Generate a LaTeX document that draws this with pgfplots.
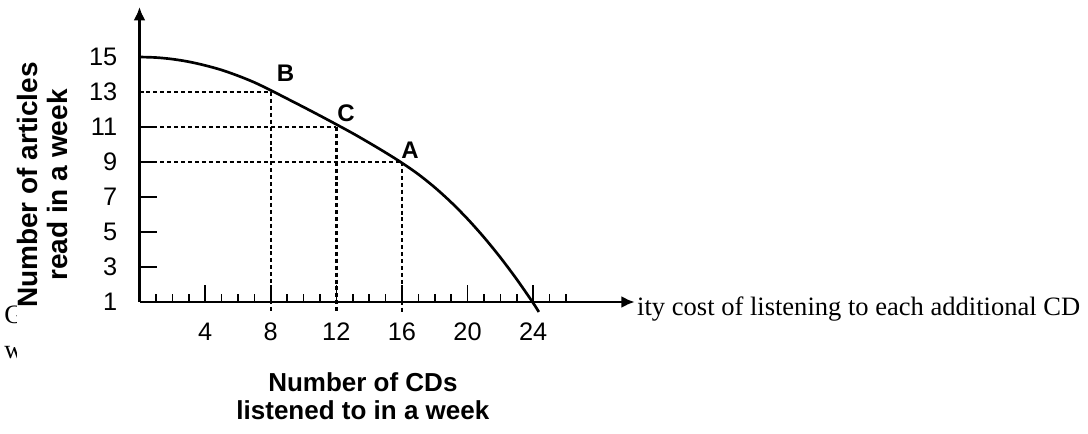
\documentclass[border=0pt]{standalone}
\usepackage{pgfplots}
\pgfplotsset{compat=1.18}
\usepackage{fontspec}
\setmainfont{Liberation Sans}
\newfontfamily\seriffont{Liberation Serif}
\usetikzlibrary{arrows.meta}
\begin{document}
\begin{tikzpicture}
\useasboundingbox (-104.625pt,-98.25pt) rectangle (711.375pt,226.5pt);
% background question text (partly hidden by the chart image)
\node[anchor=base west, inner sep=0pt, font=\seriffont\fontsize{19.9}{22}\selectfont] at (-101.6pt,-15.75pt) {G};
\node[anchor=base west, inner sep=0pt, font=\seriffont\fontsize{19.9}{22}\selectfont] at (-101.6pt,-42pt) {w};
\node[anchor=base west, inner sep=0pt, font=\seriffont\fontsize{19.9}{22}\selectfont] at (373.1pt,-9.75pt) {ity cost of listening to each additional CD};
\fill[white] (-91.9pt,-98.25pt) rectangle (370.9pt,226.5pt);
\begin{axis}[
  at={(0,0)}, anchor=south west,
  x=12.3pt, y=13.125pt,
  xmin=0, xmax=30.2, ymin=1, ymax=17.86,
  axis lines=left,
  axis line style={line width=2pt, -{Latex[length=10pt,width=9pt]}},
  clip=false,
  xtick={4,8,...,24},
  minor xtick={1,...,26},
  ytick={3,5,...,11},
  extra y ticks={1,13,15},
  extra y tick style={major tick length=0pt},
  tick align=inside,
  major tick length=13pt, minor tick length=6pt,
  tick style={black, line width=1.2pt},
  /pgf/number format/assume math mode=true,
  tick label style={font=\fontsize{19}{22}\selectfont},
  xticklabel style={anchor=base, inner sep=0pt, yshift=-29pt},
  yticklabel style={anchor=east, inner sep=0pt, xshift=-16.5pt},
  xlabel={Number of CDs\\listened to in a week},
  xlabel style={at={(rel axis cs:0.451,0)}, anchor=center, yshift=-70.9pt, align=center, font=\bfseries\fontsize{19.5}{21}\selectfont},
]
% dotted guide lines
\addplot[black, line width=1.8pt, dash pattern=on 3pt off 2.2pt] coordinates {(0,13) (8,13)};
\addplot[black, line width=1.8pt, dash pattern=on 3pt off 2.2pt] coordinates {(0,11) (12,11)};
\addplot[black, line width=1.8pt, dash pattern=on 3pt off 2.2pt] coordinates {(0,9) (16,9)};
\addplot[black, line width=1.8pt, dash pattern=on 3pt off 2.2pt] coordinates {(8,13) (8,0.4)};
\addplot[black, line width=1.8pt, dash pattern=on 3pt off 2.2pt] coordinates {(12,11) (12,0.4)};
\addplot[black, line width=1.8pt, dash pattern=on 3pt off 2.2pt] coordinates {(16,9) (16,0.4)};
% production possibilities frontier
\addplot[black, line width=2pt, smooth] coordinates {
 (0,15.0) (1,14.97) (2,14.88) (3,14.73) (4,14.52) (5,14.26) (6,13.93) (7,13.55)
 (8,13.1) (9,12.62) (10,12.14) (11,11.65) (12,11.15) (13,10.64) (14,10.1)
 (15,9.54) (16,8.95) (17,8.3) (18,7.55) (19,6.7) (20,5.75) (21,4.7)
 (22,3.55) (23,2.3) (24,0.95) (24.35,0.43)};
\node[font=\bfseries\fontsize{18}{20}\selectfont] at (axis cs:8.9,14.06) {B};
\node[font=\bfseries\fontsize{18}{20}\selectfont] at (axis cs:12.6,11.77) {C};
\node[font=\bfseries\fontsize{18}{20}\selectfont] at (axis cs:16.5,9.69) {A};
\end{axis}
\node[rotate=90, align=center, font=\bfseries\fontsize{21}{22.5}\selectfont] at (-73.1pt,87.75pt) {Number of articles\\read in a week};
\end{tikzpicture}
\end{document}
